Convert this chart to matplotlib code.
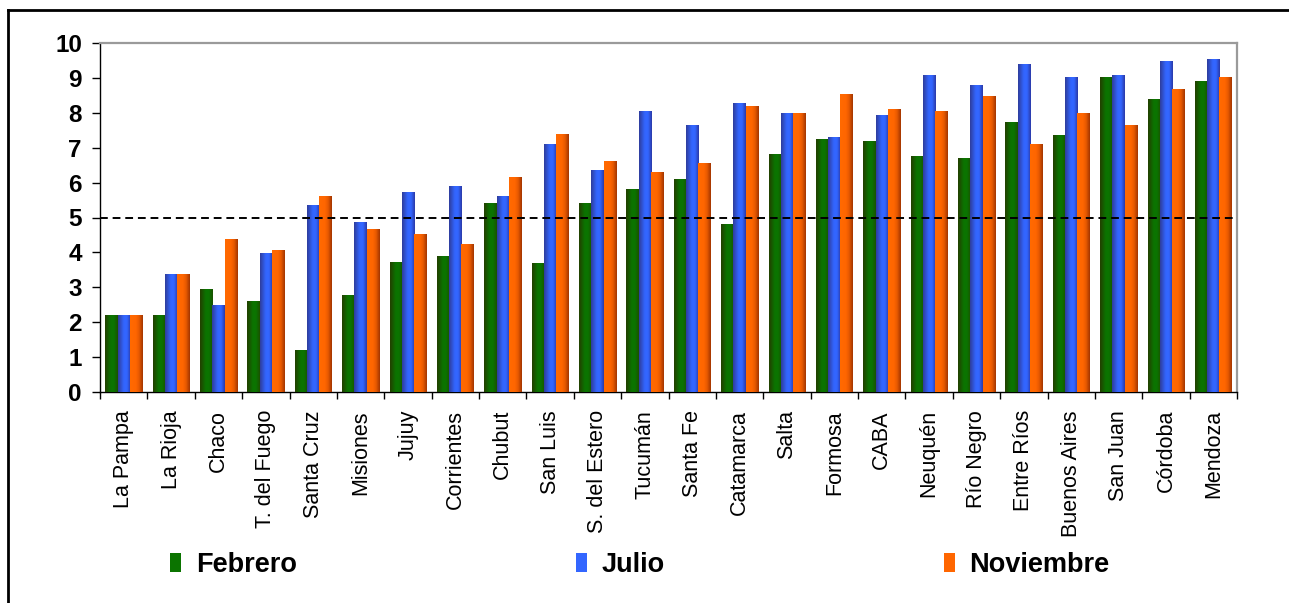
import matplotlib

matplotlib.use("Agg")
import matplotlib.pyplot as plt
import numpy as np
from matplotlib.colors import LinearSegmentedColormap
from matplotlib.lines import Line2D

plt.rcParams["font.family"] = ["Liberation Sans", "DejaVu Sans"]

provinces = [
    "La Pampa", "La Rioja", "Chaco", "T. del Fuego", "Santa Cruz", "Misiones",
    "Jujuy", "Corrientes", "Chubut", "San Luis", "S. del Estero", "Tucumán",
    "Santa Fe", "Catamarca", "Salta", "Formosa", "CABA", "Neuquén",
    "Río Negro", "Entre Ríos", "Buenos Aires", "San Juan", "Córdoba", "Mendoza",
]
febrero = [2.2, 2.2, 2.93, 2.59, 1.18, 2.76, 3.70, 3.88, 5.40, 3.67, 5.40, 5.80,
           6.09, 4.80, 6.80, 7.23, 7.17, 6.74, 6.68, 7.71, 7.34, 9.00, 8.37, 8.91]
julio = [2.2, 3.36, 2.47, 3.96, 5.34, 4.85, 5.71, 5.88, 5.60, 7.08, 6.34, 8.03,
         7.63, 8.26, 7.97, 7.29, 7.92, 9.06, 8.77, 9.38, 9.00, 9.06, 9.46, 9.52]
noviembre = [2.2, 3.36, 4.36, 4.05, 5.60, 4.65, 4.51, 4.22, 6.14, 7.37, 6.60, 6.28,
             6.54, 8.17, 7.97, 8.52, 8.09, 8.03, 8.46, 7.08, 7.97, 7.63, 8.66, 9.00]
threshold = 5

# horizontal shading of each series: left edge -> middle -> right edge
shades = {
    "Febrero": ["#233f00", "#0b7400", "#0b7400", "#1a5200"],
    "Julio": ["#2e3c9c", "#3366ff", "#3366ff", "#2a3aa8"],
    "Noviembre": ["#ff6a00", "#ff6600", "#e85a00", "#a33500"],
}

fig = plt.figure(figsize=(12.89, 6.03), dpi=100)
ax = fig.add_axes([100 / 1289, 1 - 392 / 603, 1137 / 1289, 349 / 603])

x = np.arange(len(provinces))
width = 0.258
series = [("Febrero", febrero), ("Julio", julio), ("Noviembre", noviembre)]
grad = np.linspace(0, 1, 64).reshape(1, -1)
for i, (name, values) in enumerate(series):
    cols = shades[name]
    cmap = LinearSegmentedColormap.from_list(name, list(zip([0, 0.45, 0.7, 1], cols)))
    bars = ax.bar(x + (i - 1) * width, values, width, color=cols[1], label=name,
                  linewidth=0, zorder=2)
    for p in bars:
        ax.imshow(grad, cmap=cmap, aspect="auto", interpolation="bilinear",
                  extent=(p.get_x(), p.get_x() + p.get_width(), 0, p.get_height()),
                  zorder=3)

ax.axhline(threshold, color="black", linestyle=(0, (4, 2.5)), linewidth=1.4, zorder=4)

ax.set_xlim(-0.5, len(provinces) - 0.5)
ax.set_ylim(0, 10)
ax.set_yticks(range(0, 11))
ax.set_yticklabels([str(v) for v in range(0, 11)], fontsize=17.5, fontweight="bold")
ax.tick_params(axis="y", direction="out", length=6, width=1, pad=7)

ax.set_xticks(x)
ax.set_xticklabels(provinces, rotation=90, fontsize=15.5)
ax.set_xticks(np.arange(-0.5, len(provinces)), minor=True)
ax.tick_params(axis="x", which="major", length=0, pad=13)
ax.tick_params(axis="x", which="minor", length=5, width=1)

for side in ("top", "right"):
    ax.spines[side].set_color("#9a9a9a")
    ax.spines[side].set_linewidth(1.6)
for side in ("left", "bottom"):
    ax.spines[side].set_color("black")
    ax.spines[side].set_linewidth(1.0)

handles, labels = ax.get_legend_handles_labels()
fig.legend(handles, labels, loc="center", bbox_to_anchor=(0.4965, 1 - 565 / 603), ncol=3,
           frameon=False, prop={"weight": "bold", "size": 19.5}, handlelength=0.4,
           handleheight=0.75, handletextpad=0.55, columnspacing=10.3)

# outer chart frame (top and left edges visible)
fig.add_artist(Line2D([8 / 1289, 8 / 1289], [0, 1 - 10 / 603], color="black",
                      linewidth=2, transform=fig.transFigure))
fig.add_artist(Line2D([8 / 1289, 1], [1 - 10 / 603, 1 - 10 / 603], color="black",
                      linewidth=2, transform=fig.transFigure))

fig.savefig("out.png", dpi=100)
